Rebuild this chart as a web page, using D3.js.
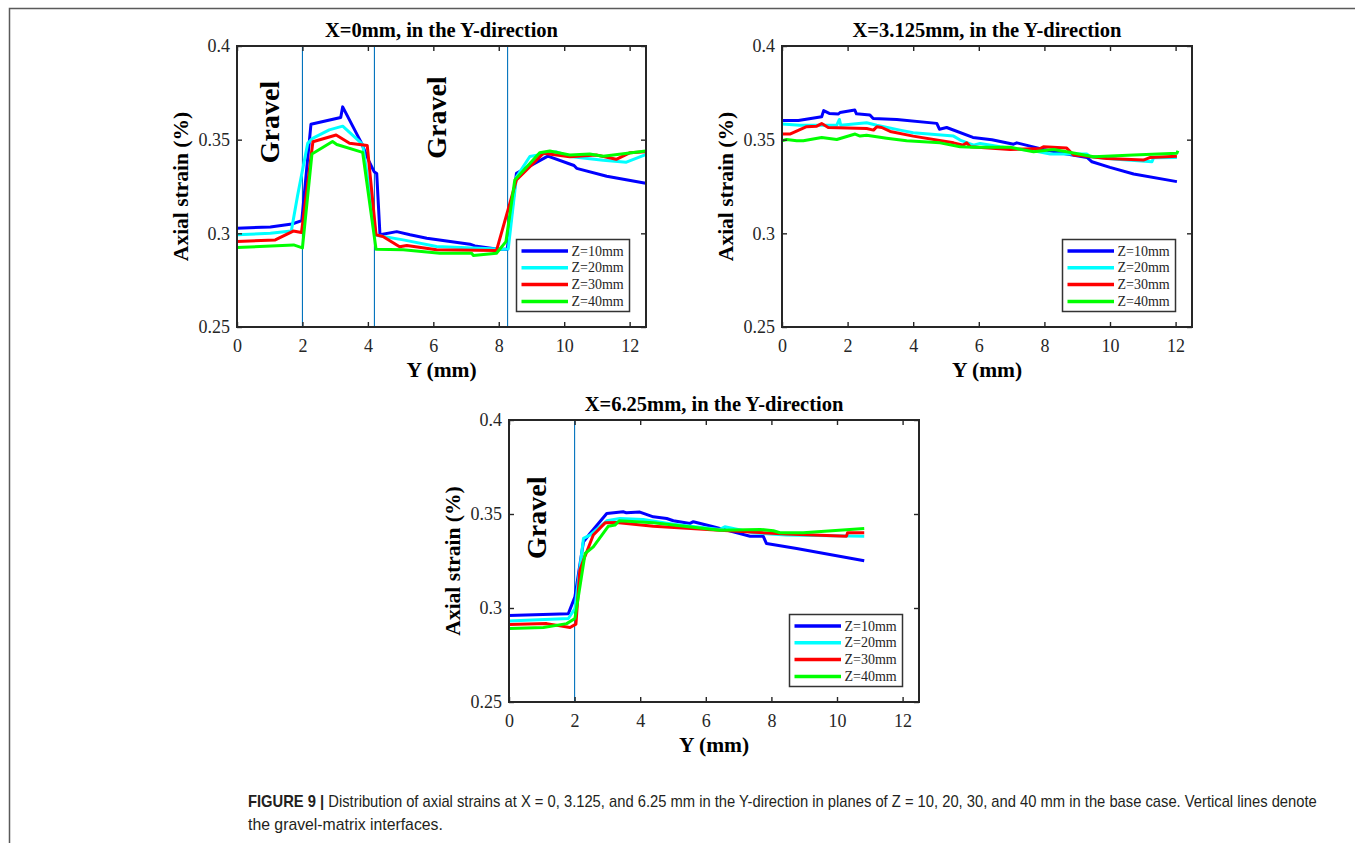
<!DOCTYPE html>
<html>
<head>
<meta charset="utf-8">
<script src="https://cdn.jsdelivr.net/npm/d3@7"></script>
<style>
  html, body { margin: 0; padding: 0; background: #fff; }
  svg { display: block; }
</style>
</head>
<body>
<svg id="fig" width="1355" height="843"></svg>
<script>
// ---- data: axial strain (%) along Y (mm) ----
const xTicks = [0, 2, 4, 6, 8, 10, 12];
const yTicks = [0.25, 0.3, 0.35, 0.4];
const seriesNames = ["Z=10mm", "Z=20mm", "Z=30mm", "Z=40mm"];
const seriesColors = ["#0000ff", "#00ffff", "#ff0000", "#00ff00"];

// X = 0 mm
const x0_z10 = [[0,0.3027],[1.02,0.3034],[1.68,0.3050],[1.98,0.3068],[2.26,0.3582],[3.17,0.3618],[3.23,0.3675],[3.81,0.3480],[4.04,0.3382],[4.19,0.3329],[4.27,0.3320],[4.37,0.2992],[4.88,0.3009],[5.29,0.2992],[5.80,0.2974],[7.12,0.2942],[7.27,0.2933],[7.98,0.2915],[8.26,0.2915],[8.54,0.3320],[9.50,0.3412],[10.30,0.3362],[10.38,0.3347],[11.30,0.3305],[12.49,0.3267]];
const x0_z20 = [[0,0.2992],[1.02,0.3000],[1.66,0.3012],[1.85,0.3200],[2.16,0.3480],[2.31,0.3507],[2.82,0.3552],[3.23,0.3572],[3.84,0.3475],[4.25,0.2990],[5.08,0.2965],[6.10,0.2930],[8.14,0.2915],[8.29,0.2917],[8.54,0.3300],[8.95,0.3410],[9.76,0.3435],[10.17,0.3410],[11.19,0.3390],[11.90,0.3380],[12.49,0.3420]];
const x0_z30 = [[0,0.2956],[1.17,0.2965],[1.72,0.3012],[1.97,0.3004],[2.32,0.3489],[3.03,0.3525],[3.44,0.3481],[3.98,0.3469],[4.25,0.2992],[4.46,0.2983],[4.97,0.2928],[5.19,0.2935],[6.10,0.2912],[7.93,0.2908],[8.54,0.3285],[9.36,0.3427],[10.17,0.3409],[10.98,0.3418],[11.59,0.3395],[12.00,0.3430],[12.49,0.3435]];
const x0_z40 = [[0,0.2924],[1.73,0.2938],[2.00,0.2922],[2.29,0.3423],[2.92,0.3490],[3.05,0.3474],[3.84,0.3432],[4.25,0.2915],[5.08,0.2912],[6.20,0.2894],[7.17,0.2894],[7.22,0.2882],[7.93,0.2894],[8.22,0.2956],[8.49,0.3285],[9.25,0.3430],[9.56,0.3439],[10.17,0.3418],[10.78,0.3423],[11.19,0.3412],[12.49,0.3439]];

// X = 3.125 mm
const x3_z10 = [[0,0.3602],[0.50,0.3602],[1.21,0.3622],[1.27,0.3655],[1.44,0.3640],[1.72,0.3637],[1.77,0.3645],[2.22,0.3658],[2.27,0.3638],[2.68,0.3632],[2.78,0.3613],[3.50,0.3608],[4.72,0.3587],[4.80,0.3556],[5.02,0.3565],[5.82,0.3512],[6.40,0.3500],[7.06,0.3476],[7.16,0.3483],[7.97,0.3448],[8.68,0.3423],[9.30,0.3405],[9.45,0.3382],[10.00,0.3352],[10.72,0.3317],[12.04,0.3276]];
const x3_z20 = [[0,0.3583],[0.55,0.3577],[1.67,0.3577],[1.75,0.3608],[1.79,0.3577],[2.58,0.3590],[2.89,0.3577],[3.60,0.3551],[4.00,0.3537],[5.23,0.3519],[5.43,0.3498],[5.84,0.3471],[6.04,0.3480],[6.65,0.3462],[7.67,0.3441],[8.18,0.3423],[9.30,0.3423],[9.40,0.3409],[10.21,0.3395],[11.28,0.3382],[11.33,0.3404],[12.04,0.3405]];
const x3_z30 = [[0,0.3530],[0.24,0.3530],[0.75,0.3569],[1.06,0.3572],[1.21,0.3586],[1.41,0.3565],[2.58,0.3560],[2.79,0.3551],[2.89,0.3569],[3.04,0.3565],[3.30,0.3544],[4.00,0.3519],[5.23,0.3483],[5.53,0.3471],[5.63,0.3483],[5.74,0.3462],[6.96,0.3448],[7.87,0.3453],[7.97,0.3462],[8.68,0.3455],[8.89,0.3418],[9.30,0.3412],[9.90,0.3400],[11.02,0.3391],[11.23,0.3405],[12.04,0.3412]];
const x3_z40 = [[0,0.3494],[0.14,0.3501],[0.45,0.3494],[0.65,0.3494],[1.21,0.3512],[1.67,0.3501],[2.23,0.3530],[2.38,0.3519],[2.58,0.3524],[3.19,0.3508],[3.80,0.3494],[4.82,0.3483],[5.43,0.3462],[5.84,0.3459],[6.96,0.3459],[7.67,0.3435],[8.28,0.3448],[8.68,0.3435],[9.50,0.3409],[10.72,0.3418],[12.04,0.3427],[12.07,0.3441]];

// X = 6.25 mm
const x6_z10 = [[0,0.2960],[1.81,0.2970],[2.01,0.3060],[2.27,0.3352],[2.47,0.3396],[2.98,0.3503],[3.48,0.3512],[3.58,0.3506],[3.99,0.3510],[4.40,0.3485],[4.81,0.3476],[5.01,0.3464],[5.52,0.3450],[5.62,0.3459],[6.23,0.3432],[6.63,0.3414],[7.35,0.3382],[7.75,0.3382],[7.85,0.3343],[8.77,0.3317],[10.83,0.3251]];
const x6_z20 = [[0,0.2931],[1.81,0.2944],[2.01,0.2997],[2.27,0.3370],[2.47,0.3388],[2.98,0.3464],[3.38,0.3476],[4.09,0.3471],[5.01,0.3446],[6.43,0.3418],[6.58,0.3432],[7.45,0.3400],[8.46,0.3388],[10.83,0.3382]];
const x6_z30 = [[0,0.2912],[1.15,0.2917],[1.86,0.2896],[2.04,0.2914],[2.16,0.3201],[2.27,0.3254],[2.57,0.3388],[2.93,0.3453],[3.28,0.3455],[4.40,0.3435],[6.43,0.3414],[8.46,0.3393],[10.29,0.3382],[10.32,0.3400],[10.83,0.3400]];
const x6_z40 = [[0,0.2891],[1.05,0.2896],[1.76,0.2917],[2.01,0.2944],[2.32,0.3290],[2.57,0.3325],[3.03,0.3435],[3.23,0.3441],[3.36,0.3464],[4.40,0.3453],[6.43,0.3414],[7.65,0.3418],[8.06,0.3411],[8.26,0.3400],[8.97,0.3400],[10.83,0.3423]];

// gravel-matrix interfaces (Y, mm)
const x0Interfaces = [2, 4.2, 8.27];
const x3Interfaces = [];
const x6Interfaces = [2];

// "Gravel" annotations placed in data units [Y, strain]
const x0Gravel = [[0.98, 0.3594], [6.1, 0.3618]];
const x3Gravel = [];
const x6Gravel = [[0.84, 0.3480]];

const titles = ["X=0mm, in the Y-direction", "X=3.125mm, in the Y-direction", "X=6.25mm, in the Y-direction"];

// ---- layout ----
const panels = [
  { left: 237, top: 46, width: 409, height: 281, title: titles[0], series: [x0_z10, x0_z20, x0_z30, x0_z40], interfaces: x0Interfaces, gravel: x0Gravel },
  { left: 782, top: 46, width: 410, height: 281, title: titles[1], series: [x3_z10, x3_z20, x3_z30, x3_z40], interfaces: x3Interfaces, gravel: x3Gravel },
  { left: 509, top: 420, width: 410, height: 282, title: titles[2], series: [x6_z10, x6_z20, x6_z30, x6_z40], interfaces: x6Interfaces, gravel: x6Gravel }
];

const svg = d3.select("#fig");
const serif = "'Liberation Serif', 'Times New Roman', serif";
const axisColor = "#262626";

// outer figure frame
svg.append("path")
  .attr("d", "M9.5,843 L9.5,8.5 L1355,8.5")
  .attr("fill", "none").attr("stroke", "#5a5a5a").attr("stroke-width", 1.5);

panels.forEach(p => {
  const x = d3.scaleLinear().domain([0, 12.5]).range([0, p.width]);
  const y = d3.scaleLinear().domain([0.25, 0.4]).range([p.height, 0]);
  const g = svg.append("g").attr("transform", `translate(${p.left},${p.top})`);

  // gravel-matrix interface lines
  g.selectAll("line.iface").data(p.interfaces).join("line")
    .attr("class", "iface")
    .attr("x1", d => x(d)).attr("x2", d => x(d))
    .attr("y1", 0).attr("y2", p.height)
    .attr("stroke", "#0072bd").attr("stroke-width", 1.1);

  // strain curves
  const line = d3.line().x(d => x(d[0])).y(d => y(d[1]));
  g.selectAll("path.curve").data(p.series).join("path")
    .attr("class", "curve")
    .attr("d", line)
    .attr("fill", "none")
    .attr("stroke", (d, i) => seriesColors[i])
    .attr("stroke-width", 3)
    .attr("stroke-linejoin", "round");

  // Gravel labels
  g.selectAll("text.gravel").data(p.gravel).join("text")
    .attr("class", "gravel")
    .attr("transform", d => `translate(${x(d[0])},${y(d[1])}) rotate(-90)`)
    .attr("text-anchor", "middle")
    .attr("dominant-baseline", "central")
    .attr("font-family", serif).attr("font-weight", "bold").attr("font-size", 28)
    .attr("fill", "#000")
    .text("Gravel");

  // axes with inward ticks on all four sides
  const styleAxis = sel => {
    sel.select(".domain").remove();
    sel.selectAll(".tick line").attr("stroke", axisColor).attr("stroke-width", 1.4);
    sel.selectAll(".tick text").attr("font-family", serif).attr("font-size", 18).attr("fill", "#262626");
  };
  g.append("g").attr("transform", `translate(0,${p.height})`)
    .call(d3.axisBottom(x).tickValues(xTicks).tickSize(-5).tickPadding(12).tickFormat(d => d))
    .call(styleAxis);
  g.append("g")
    .call(d3.axisTop(x).tickValues(xTicks).tickSize(-5).tickFormat(""))
    .call(styleAxis);
  g.append("g")
    .call(d3.axisLeft(y).tickValues(yTicks).tickSize(-5).tickPadding(7).tickFormat(d => d))
    .call(styleAxis);
  g.append("g").attr("transform", `translate(${p.width},0)`)
    .call(d3.axisRight(y).tickValues(yTicks).tickSize(-5).tickFormat(""))
    .call(styleAxis);

  g.append("rect")
    .attr("width", p.width).attr("height", p.height)
    .attr("fill", "none").attr("stroke", axisColor).attr("stroke-width", 2);

  // title and axis labels
  g.append("text")
    .attr("x", p.width / 2).attr("y", -9)
    .attr("text-anchor", "middle")
    .attr("font-family", serif).attr("font-weight", "bold").attr("font-size", 20.5)
    .text(p.title);
  g.append("text")
    .attr("x", p.width / 2).attr("y", p.height + 50)
    .attr("text-anchor", "middle")
    .attr("font-family", serif).attr("font-weight", "bold").attr("font-size", 21.5)
    .text("Y (mm)");
  g.append("text")
    .attr("transform", `translate(-56,${p.height / 2}) rotate(-90)`)
    .attr("text-anchor", "middle")
    .attr("dominant-baseline", "central")
    .attr("font-family", serif).attr("font-weight", "bold").attr("font-size", 21.5)
    .text("Axial strain (%)");

  // legend
  const lw = 113, lh = 72;
  const lg = g.append("g").attr("transform", `translate(${p.width - 16.5 - lw},${p.height - 15.5 - lh})`);
  lg.append("rect").attr("width", lw).attr("height", lh)
    .attr("fill", "#fff").attr("stroke", "#333").attr("stroke-width", 1.5);
  const rows = lg.selectAll("g.row").data(seriesNames).join("g")
    .attr("class", "row")
    .attr("transform", (d, i) => `translate(0,${11.5 + i * 16.8})`);
  rows.append("line")
    .attr("x1", 5).attr("x2", 51.5)
    .attr("stroke", (d, i) => seriesColors[i]).attr("stroke-width", 3.5);
  rows.append("text")
    .attr("x", 55).attr("dominant-baseline", "central")
    .attr("font-family", serif).attr("font-size", 14).attr("fill", "#262626")
    .text(d => d);
});

// caption: narrow sans, squeezed horizontally to the column width
const capFont = "'Liberation Sans', Arial, sans-serif";
function captionLine(y, width, parts) {
  const g = svg.append("g").attr("transform", `translate(248,${y})`);
  const t = g.append("text")
    .attr("font-family", capFont).attr("font-size", 16).attr("fill", "#231f20");
  parts.forEach(([txt, bold]) => {
    t.append("tspan").attr("font-weight", bold ? "bold" : "normal").text(txt);
  });
  const natural = t.node().getComputedTextLength();
  g.attr("transform", `translate(248,${y}) scale(${width / natural},1)`);
}
captionLine(807, 1070, [["FIGURE 9 | ", true], ["Distribution of axial strains at X = 0, 3.125, and 6.25 mm in the Y-direction in planes of Z = 10, 20, 30, and 40 mm in the base case. Vertical lines denote", false]]);
captionLine(830, 195, [["the gravel-matrix interfaces.", false]]);
</script>
</body>
</html>
